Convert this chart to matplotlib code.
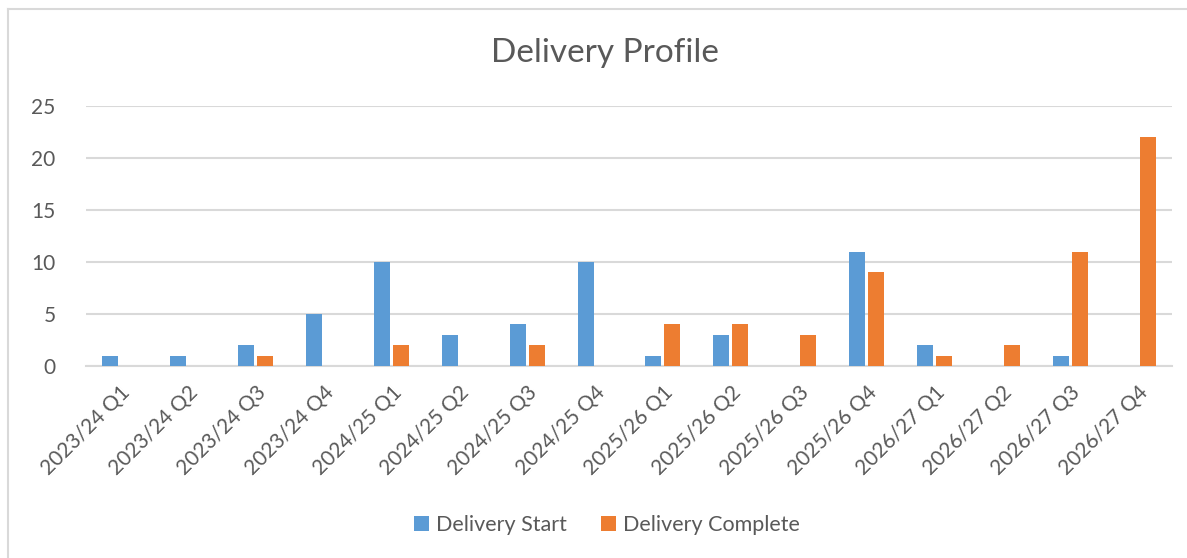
import matplotlib
matplotlib.use("Agg")
import matplotlib.pyplot as plt
import numpy as np
from matplotlib.lines import Line2D

categories = ["2023/24 Q1", "2023/24 Q2", "2023/24 Q3", "2023/24 Q4",
              "2024/25 Q1", "2024/25 Q2", "2024/25 Q3", "2024/25 Q4",
              "2025/26 Q1", "2025/26 Q2", "2025/26 Q3", "2025/26 Q4",
              "2026/27 Q1", "2026/27 Q2", "2026/27 Q3", "2026/27 Q4"]
delivery_start = [1, 1, 2, 5, 10, 3, 4, 10, 1, 3, 0, 11, 2, 0, 1, 0]
delivery_complete = [0, 0, 1, 0, 2, 0, 2, 0, 4, 4, 3, 9, 1, 2, 11, 22]
yticks = [0, 5, 10, 15, 20, 25]

plt.rcParams['font.family'] = ['Lato', 'DejaVu Sans']
text_color = '#595959'
blue = '#5B9BD5'
orange = '#ED7D31'
grid = '#D9D9D9'

fig = plt.figure(figsize=(11.87, 5.58), dpi=100)
# chart border (top and left visible)
fig.lines.append(Line2D([8/1187, 1.0], [1 - 9/558, 1 - 9/558], transform=fig.transFigure,
                        color='#D9D9D9', linewidth=1.5))
fig.lines.append(Line2D([8/1187, 8/1187], [0, 1 - 9/558], transform=fig.transFigure,
                        color='#D9D9D9', linewidth=1.5))

ax = fig.add_axes([86/1187, 1 - 366/558, (1172-86)/1187, (366-106)/558])

x = np.arange(len(categories))
w = 0.235
gap = 0.045
ax.bar(x - (w+gap)/2, delivery_start, width=w, color=blue, label='Delivery Start', zorder=3)
ax.bar(x + (w+gap)/2, delivery_complete, width=w, color=orange, label='Delivery Complete', zorder=3)

ax.set_xlim(-0.5, len(categories) - 0.5)
ax.set_ylim(0, 25)
ax.set_yticks(yticks)
ax.set_yticklabels([str(v) for v in yticks], fontsize=15, color=text_color)
ax.yaxis.grid(True, color=grid, linewidth=1.5, zorder=0)
ax.set_axisbelow(True)
for s in ['top', 'right', 'left']:
    ax.spines[s].set_visible(False)
ax.spines['bottom'].set_color(grid)
ax.spines['bottom'].set_linewidth(1.5)
ax.tick_params(axis='both', length=0)
ax.tick_params(axis='y', pad=22)
ax.set_xticks(x)
ax.set_xticklabels(categories, rotation=45, ha='right', rotation_mode='anchor',
                   fontsize=15, color=text_color)
ax.tick_params(axis='x', pad=12)

fig.text(605/1187, 1 - 53/558, 'Delivery Profile', ha='center', va='center', fontsize=24, color=text_color)

leg = fig.legend(loc='center', bbox_to_anchor=(607/1187, 1 - 525/558), ncol=2, frameon=False,
                 fontsize=15.5, handlelength=0.7, handleheight=0.7, handletextpad=0.3, columnspacing=1.6)
for t in leg.get_texts():
    t.set_color(text_color)

fig.savefig('out.png', dpi=100)
